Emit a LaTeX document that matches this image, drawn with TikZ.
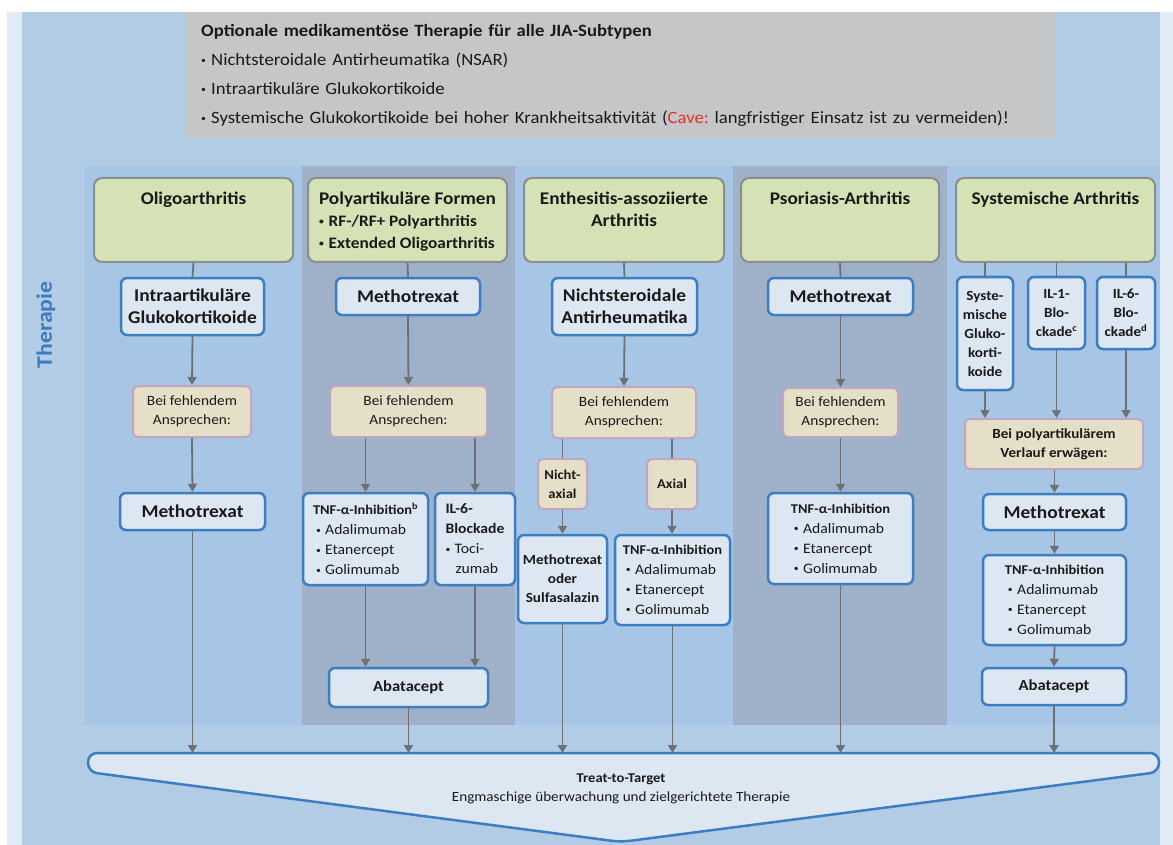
\documentclass[tikz,border=0pt]{standalone}
\usepackage{fontspec}
\setmainfont[FakeStretch=1.08]{Carlito}
\usetikzlibrary{arrows.meta}
\definecolor{lightstrip}{HTML}{E2ECF6}
\definecolor{mainblue}{HTML}{B2CCE6}
\definecolor{panelblue}{HTML}{A7C5E5}
\definecolor{panelgray}{HTML}{9EB1C9}
\definecolor{grayfill}{HTML}{C5C6C8}
\definecolor{greenfill}{HTML}{D5E2B5}
\definecolor{greenborder}{HTML}{8B8F8A}
\definecolor{boxfill}{HTML}{DCE7F2}
\definecolor{boxborder}{HTML}{3D7DC2}
\definecolor{beigefill}{HTML}{E6DFC8}
\definecolor{beigeborder}{HTML}{C2A5BE}
\definecolor{lineclr}{HTML}{6E7074}
\definecolor{thblue}{HTML}{3A7CC0}
\definecolor{cavered}{HTML}{E0312D}
\definecolor{txt}{HTML}{1A1A1A}
\newcommand{\mybul}{\raisebox{.12em}{\fontsize{9}{9}\selectfont\textbullet}\hspace{0.3em}}
\newcommand{\tnfhead}[1]{{\fontsize{13.4}{20}\selectfont\bfseries #1}}
\frenchspacing
\tikzset{
  gbox/.style={draw=greenborder, fill=greenfill, line width=2pt, rounded corners=8pt, inner sep=0pt},
  gtext/.style={anchor=north, inner sep=0pt, text=txt, font=\fontsize{17.8}{22}\selectfont\bfseries},
  bbox/.style={draw=boxborder, fill=boxfill, line width=2.5pt, rounded corners=6pt, inner sep=0pt, align=center, text=txt},
  ybox/.style={draw=beigeborder, fill=beigefill, line width=2pt, rounded corners=5pt, inner sep=0pt, align=center, text=txt, font=\fontsize{14.2}{19}\selectfont},
  big/.style={font=\fontsize{18}{22}\selectfont\bfseries},
  med/.style={font=\fontsize{14.5}{20}\selectfont},
  sml/.style={font=\fontsize{14}{19}\selectfont\bfseries},
  aba/.style={font=\fontsize{15.4}{19}\selectfont\bfseries},
  conn/.style={draw=lineclr, line width=1.8pt},
  arr/.style={conn, -{Triangle[width=9pt,length=8pt]}},
}
\begin{document}
\begin{tikzpicture}[x=1pt,y=-1pt]
\useasboundingbox (0,0) rectangle (1173,845);
\fill[white] (0,0) rectangle (1173,845);
\fill[lightstrip] (7,12) rectangle (1173,845);
\fill[mainblue] (22,12) rectangle (1160,845);
\fill[panelblue] (85,166) rectangle (1160,725);
\fill[panelgray] (302,166) rectangle (515,725);
\fill[panelgray] (733,166) rectangle (947,725);

% top box
\node[anchor=north west, fill=grayfill, minimum width=869pt, minimum height=126pt, text width=839pt, inner xsep=15pt, inner ysep=0pt, align=left, text=txt, font=\fontsize{17.3}{29}\selectfont] (opt) at (186,12)
{\textbf{Optionale medikamentöse Therapie für alle JIA-Subtypen}\\
\mybul Nichtsteroidale Antirheumatika (NSAR)\\
\mybul Intraartikuläre Glukokortikoide\\
\mybul Systemische Glukokortikoide bei hoher Krankheitsaktivität (\textcolor{cavered}{Cave:} langfristiger Einsatz ist zu vermeiden)!};

% Therapie label
\node[rotate=90, text=thblue, font=\fontsize{22}{24}\selectfont\bfseries] (ther) at (46,325) {Therapie};

% Treat-to-target
\coordinate (t2t) at (621,753);
\draw[draw=boxborder, fill=boxfill, line width=2.5pt, rounded corners=9pt] (88,753) -- (1159,753) -- (1159,772) -- (621,842) -- (88,772) -- cycle;
\node[align=center, text=txt, font=\fontsize{14}{19}\selectfont] (t2tlab) at (621,789) {{\fontsize{13.5}{19}\selectfont\bfseries Treat-to-Target}\\Engmaschige überwachung und zielgerichtete Therapie};

% headers
\node[gbox, minimum width=199pt, minimum height=84pt] (g1) at (193.5,220) {};
\node[gbox, minimum width=199pt, minimum height=84pt] (g2) at (407.5,220) {};
\node[gbox, minimum width=200pt, minimum height=84pt] (g3) at (624,220) {};
\node[gbox, minimum width=198pt, minimum height=84pt] (g4) at (840,220) {};
\node[gbox, minimum width=199pt, minimum height=84pt] (g5) at (1055.5,220) {};
\node[gtext] (g1t) at ([yshift=-15pt]g1.north) {Oligoarthritis};
\node[gtext, align=left] (g2t) at ([yshift=-15pt]g2.north) {Polyartikuläre Formen\\{\fontsize{16}{22}\selectfont\mybul RF-/RF+ Polyarthritis}\\{\fontsize{16}{22}\selectfont\mybul Extended Oligoarthritis}};
\node[gtext, align=center] (g3t) at ([yshift=-15pt]g3.north) {Enthesitis-assoziierte\\Arthritis};
\node[gtext] (g4t) at ([yshift=-15pt]g4.north) {Psoriasis-Arthritis};
\node[gtext] (g5t) at ([yshift=-15pt]g5.north) {Systemische Arthritis};

% column 1
\node[bbox, big, minimum width=143pt, minimum height=57pt] (i1) at (192.5,306.5) {Intraartikuläre\\Glukokortikoide};
\node[ybox, minimum width=118pt, minimum height=51pt] (b1) at (192,411.5) {Bei fehlendem\\Ansprechen:};
\node[bbox, big, minimum width=145pt, minimum height=37pt] (m1) at (192.5,511.5) {Methotrexat};
\draw[conn] (g1.south) -- (i1.north);
\draw[arr] (i1.south) -- (b1.north);
\draw[arr] (b1.south) -- (m1.north);
\draw[arr] (m1.south) -- (m1.south |- t2t);

% column 2
\node[bbox, big, minimum width=144pt, minimum height=37pt] (m2) at (408,296.5) {Methotrexat};
\node[ybox, minimum width=157pt, minimum height=51pt] (b2) at (408.5,411.5) {Bei fehlendem\\Ansprechen:};
\node[bbox, med, align=left, minimum width=125pt, minimum height=92pt] (tnf2) at (365.5,539) {\tnfhead{TNF-α-Inhibition\textsuperscript{b}}\\\hspace*{3pt}\mybul Adalimumab\\\hspace*{3pt}\mybul Etanercept\\\hspace*{3pt}\mybul Golimumab};
\node[bbox, med, align=left, minimum width=80pt, minimum height=92pt] (il6) at (475,539) {\textbf{IL-6-}\\\textbf{Blockade}\\\mybul Toci-\\\hspace*{10pt}zumab};
\node[bbox, aba, minimum width=159pt, minimum height=39pt] (aba2) at (408.5,687.5) {Abatacept};
\draw[conn] (g2.south) -- (m2.north);
\draw[arr] (m2.south) -- (b2.north);
\draw[arr] (b2.south -| tnf2.north) -- (tnf2.north);
\draw[arr] (b2.south -| il6.north) -- (il6.north);
\draw[arr] (tnf2.south) -- (tnf2.south |- aba2.north);
\draw[arr] (il6.south) -- (il6.south |- aba2.north);
\draw[arr] (aba2.south) -- (aba2.south |- t2t);

% column 3
\node[bbox, big, minimum width=145pt, minimum height=57pt] (n3) at (624.5,306.5) {Nichtsteroidale\\Antirheumatika};
\node[ybox, minimum width=144pt, minimum height=51pt] (b3) at (624,412.5) {Bei fehlendem\\Ansprechen:};
\node[ybox, font=\fontsize{13.5}{19}\selectfont\bfseries, minimum width=49pt, minimum height=50pt] (nax) at (562.5,484) {Nicht-\\axial};
\node[ybox, font=\fontsize{13.5}{19}\selectfont\bfseries, minimum width=50pt, minimum height=50pt] (ax) at (672,484) {Axial};
\node[bbox, sml, minimum width=89pt, minimum height=88pt] (mos) at (562.5,579) {Methotrexat\\oder\\Sulfasalazin};
\node[bbox, med, align=left, minimum width=115pt, minimum height=90pt] (tnf3) at (672.5,580) {\tnfhead{TNF-α-Inhibition}\\\hspace*{3pt}\mybul Adalimumab\\\hspace*{3pt}\mybul Etanercept\\\hspace*{3pt}\mybul Golimumab};
\draw[conn] (g3.south) -- (n3.north);
\draw[arr] (n3.south) -- (b3.north);
\draw[conn] (b3.south -| nax.north) -- (nax.north);
\draw[conn] (b3.south -| ax.north) -- (ax.north);
\draw[arr] (nax.south) -- (mos.north);
\draw[arr] (ax.south) -- (ax.south |- tnf3.north);
\draw[arr] (mos.south) -- (mos.south |- t2t);
\draw[arr] (tnf3.south) -- (tnf3.south |- t2t);

% column 4
\node[bbox, big, minimum width=145pt, minimum height=37pt] (m4) at (840.5,296.5) {Methotrexat};
\node[ybox, minimum width=115pt, minimum height=49pt] (b4) at (840.5,412.5) {Bei fehlendem\\Ansprechen:};
\node[bbox, med, align=left, minimum width=145pt, minimum height=91pt] (tnf4) at (840.5,538.5) {\tnfhead{TNF-α-Inhibition}\\\hspace*{3pt}\mybul Adalimumab\\\hspace*{3pt}\mybul Etanercept\\\hspace*{3pt}\mybul Golimumab};
\draw[conn] (g4.south) -- (m4.north);
\draw[arr] (m4.south) -- (b4.north);
\draw[arr] (b4.south) -- (tnf4.north);
\draw[arr] (tnf4.south) -- (tnf4.south |- t2t);

% column 5
\node[bbox, sml, minimum width=56pt, minimum height=113pt] (sA) at (985,333.5) {Syste-\\mische\\Gluko-\\korti-\\koide};
\node[bbox, sml, minimum width=57pt, minimum height=72pt] (sB) at (1056.5,313) {IL-1-\\Blo-\\ckade\textsuperscript{c}};
\node[bbox, sml, minimum width=58pt, minimum height=72pt] (sC) at (1126,313) {IL-6-\\Blo-\\ckade\textsuperscript{d}};
\node[ybox, font=\fontsize{14}{19}\selectfont\bfseries, minimum width=178pt, minimum height=50pt] (b5) at (1054,444) {Bei polyartikulärem\\Verlauf erwägen:};
\node[bbox, big, minimum width=143pt, minimum height=36pt] (m5) at (1054.5,512) {Methotrexat};
\node[bbox, med, align=left, minimum width=143pt, minimum height=90pt] (tnf5) at (1054.5,600) {\tnfhead{TNF-α-Inhibition}\\\hspace*{3pt}\mybul Adalimumab\\\hspace*{3pt}\mybul Etanercept\\\hspace*{3pt}\mybul Golimumab};
\node[bbox, aba, minimum width=144pt, minimum height=37pt] (aba5) at (1054,686.5) {Abatacept};
\draw[conn] (g5.south -| sA.north) -- (sA.north);
\draw[conn] (g5.south -| sB.north) -- (sB.north);
\draw[conn] (g5.south -| sC.north) -- (sC.north);
\draw[arr] (sA.south) -- (sA.south |- b5.north);
\draw[arr] (sB.south) -- (sB.south |- b5.north);
\draw[arr] (sC.south) -- (sC.south |- b5.north);
\draw[arr] (b5.south -| m5.north) -- (m5.north);
\draw[arr] (m5.south) -- (tnf5.north);
\draw[arr] (tnf5.south) -- (aba5.north);
\draw[arr] (aba5.south) -- (aba5.south |- t2t);
\end{tikzpicture}
\end{document}
